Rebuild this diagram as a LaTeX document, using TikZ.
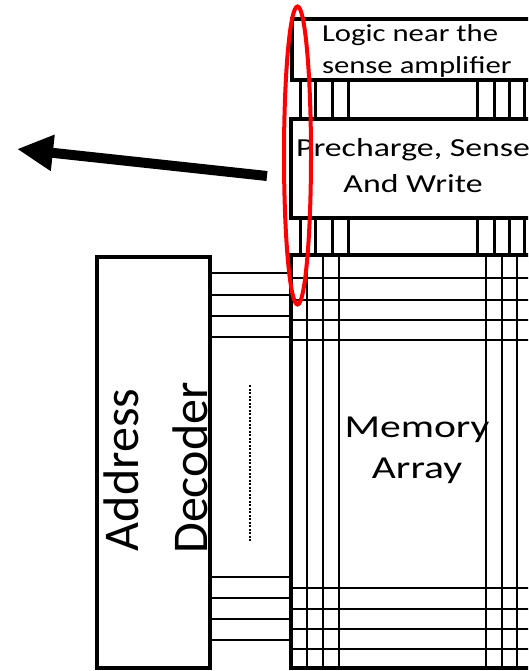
\documentclass[tikz,border=0pt]{standalone}
\usepackage{fontspec}
\usepackage{graphicx}
\newfontfamily\cf{Carlito}
\usetikzlibrary{arrows.meta}
\begin{document}
\begin{tikzpicture}[x=1pt,y=-1pt,
  box/.style={draw=black, line width=3.5pt, rectangle, inner sep=0pt, outer sep=0pt, anchor=north west},
  bus/.style={line width=3pt},
  gridline/.style={line width=2pt},
  wl/.style={line width=2.5pt},
  txt/.style={inner sep=0pt, outer sep=0pt, font=\cf}
]
\useasboundingbox (0,0) rectangle (528,671);
\clip (0,0) rectangle (528,671);

% boxes
\node[box, minimum width=320pt, minimum height=61pt] (logic) at (292,19) {};
\node[box, minimum width=320pt, minimum height=99pt] (pre) at (291,119) {};
\node[box, line width=4pt, minimum width=320pt, minimum height=413pt] (arr) at (291,255) {};
\node[box, line width=4pt, minimum width=113pt, minimum height=411pt] (dec) at (97,257) {};

% array grid
\foreach \x in {307,323,339,486,502,517}
  \draw[gridline] (\x,0 |- arr.north) -- (\x,0 |- arr.south);
\foreach \y in {278,300,320,340,588,609,629,649}
  \draw[gridline] (arr.west |- 0,\y) -- (arr.east |- 0,\y);

% word lines from decoder
\foreach \y in {273,295,316,337,577,598,619,640}
  \draw[wl] (dec.east |- 0,\y) -- (arr.west |- 0,\y);

% bus lines between blocks
\foreach \x in {300,315,332,348,477.5,494,509,524} {
  \draw[bus] (\x,0 |- logic.south) -- (\x,0 |- pre.north);
  \draw[bus] (\x,0 |- pre.south) -- (\x,0 |- arr.north);
}

% dotted line
\coordinate (d1) at (250,385);
\coordinate (d2) at (250,542);
\draw[line width=2.5pt, dash pattern=on 2pt off 1.5pt] (d1) -- (d2);

% texts
\node[txt, anchor=base west] (l1) at (322,42) {\fontsize{24.4}{28}\selectfont\scalebox{1.26}[1]{Logic near the}};
\node[txt, anchor=base west] (l2) at (322,74) {\fontsize{24.4}{28}\selectfont\scalebox{1.26}[1]{sense amplifier}};
\node[txt, anchor=base] (p1) at (413,157) {\fontsize{26}{30}\selectfont\scalebox{1.3}[1]{Precharge, Sense}};
\node[txt, anchor=base] (p2) at (413,193) {\fontsize{26}{30}\selectfont\scalebox{1.3}[1]{And Write}};
\node[txt, anchor=base] (m1) at (417,437) {\fontsize{32}{38}\selectfont\scalebox{1.3}[1]{Memory}};
\node[txt, anchor=base] (m2) at (417,478) {\fontsize{32}{38}\selectfont\scalebox{1.3}[1]{Array}};
\node[txt, anchor=base, rotate=90] (a1) at (138,470) {\fontsize{50}{60}\selectfont Address};
\node[txt, anchor=base, rotate=90] (a2) at (207,468) {\fontsize{50}{60}\selectfont Decoder};

% arrow
\coordinate (atail) at (267,176);
\coordinate (ahead) at (17,149);
\draw[line width=10pt, -{Triangle[length=36pt,width=34pt]}] (atail) -- (ahead);

% red ellipse
\draw[red, line width=4pt] (297.5,155.5) ellipse [x radius=13.5pt, y radius=149pt];
\end{tikzpicture}
\end{document}
